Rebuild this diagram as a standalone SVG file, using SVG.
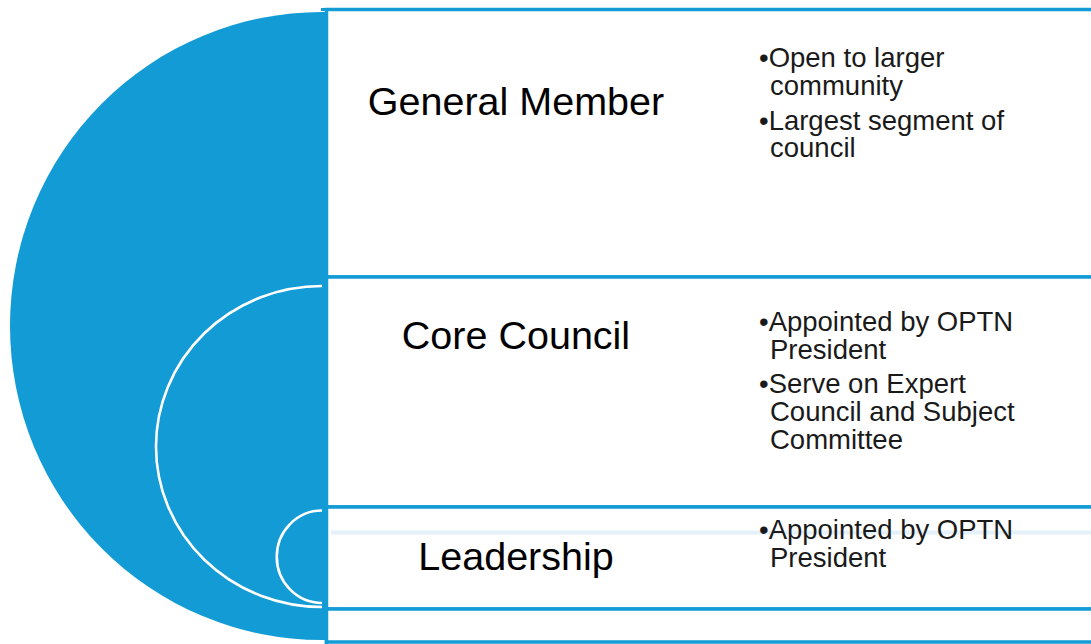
<svg xmlns="http://www.w3.org/2000/svg" width="1091" height="644" viewBox="0 0 1091 644">
<style>
.box{fill:#ffffff;stroke:#139BD6;stroke-width:3.5}
.arc{fill:none;stroke:#ffffff;stroke-width:2.6}
.title{font-family:"Liberation Sans",Arial,sans-serif;font-size:39.5px;fill:#000000;text-anchor:middle}
.bul{font-family:"Liberation Sans",Arial,sans-serif;font-size:27.5px;fill:#1a1a1a}
</style>
<rect width="1091" height="644" fill="#ffffff"/>
<g id="background-shape">
<path d="M327,12 L322,12 A312,314 0 0 0 322,640 L327,640 Z" fill="#139BD6"/>
</g>
<g id="general-member">
<rect class="box" x="326.5" y="9.5" width="770" height="267.5"/>
<line x1="321" y1="9.5" x2="327" y2="9.5" stroke="#139BD6" stroke-width="3"/>
<text class="title" x="516" y="115">General Member</text>
<text class="bul"><tspan x="759" y="67">•Open to larger</tspan><tspan x="770" y="95">community</tspan><tspan x="759" y="129.5">•Largest segment of</tspan><tspan x="770" y="157">council</tspan></text>
</g>
<g id="core-council">
<rect class="box" x="326.5" y="277" width="770" height="230"/>
<path class="arc" d="M322,286 A166,160.5 0 0 0 322,607"/>
<text class="title" x="516" y="349">Core Council</text>
<text class="bul"><tspan x="759" y="331">•Appointed by OPTN</tspan><tspan x="770" y="358.5">President</tspan><tspan x="759" y="392.5">•Serve on Expert</tspan><tspan x="770" y="420.5">Council and Subject</tspan><tspan x="770" y="448.5">Committee</tspan></text>
</g>
<g id="leadership">
<rect class="box" x="326.5" y="507" width="770" height="102"/>
<line x1="331" y1="532.5" x2="1091" y2="532.5" stroke="#e4f1fa" stroke-width="4"/>
<path class="arc" d="M322,510.5 A45,46 0 0 0 322,603"/>
<text class="title" x="516" y="570">Leadership</text>
<text class="bul"><tspan x="759" y="539">•Appointed by OPTN</tspan><tspan x="770" y="567">President</tspan></text>
</g>
<g id="base-box">
<rect class="box" x="326.5" y="609" width="770" height="33"/>
<line x1="326.5" y1="640" x2="326.5" y2="644" stroke="#139BD6" stroke-width="3.5"/>
</g>
<g id="connectors"></g>
</svg>
